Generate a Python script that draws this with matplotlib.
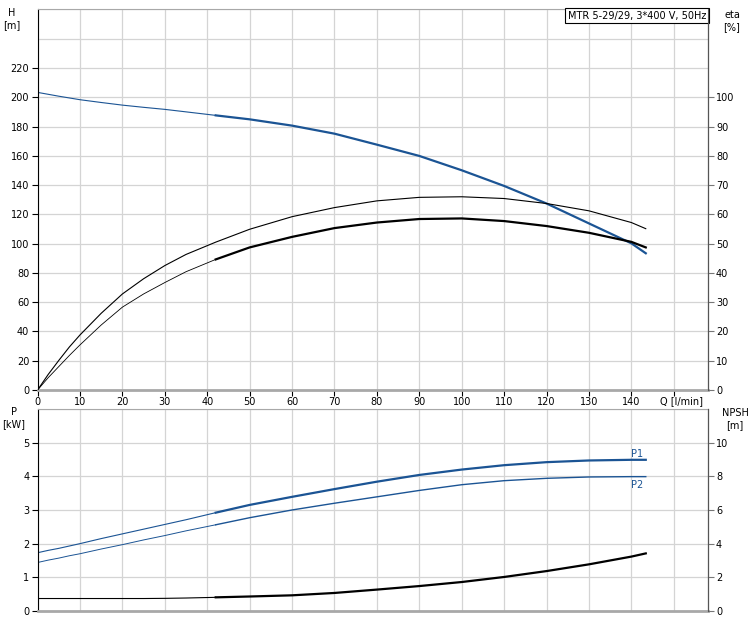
import matplotlib.pyplot as plt

# dane
q = [0, 2.5, 5, 7.5, 10, 15, 20, 25, 30, 35, 42, 50, 60, 70, 80, 90, 100, 110,
     120, 130, 140, 143.4]
h = [203.3, 202, 200.7, 199.5, 198.3, 196.4, 194.6, 193.1, 191.7, 190, 187.6,
     184.9, 180.6, 175.1, 167.6, 159.9, 150.1, 139.4, 127.4, 113.8, 100.2, 93.4]
eta1 = [0, 5.3, 10.1, 14.7, 18.8, 26.2, 32.8, 38, 42.5, 46.3, 50.5, 54.9, 59.2,
        62.3, 64.6, 65.8, 66, 65.4, 63.7, 61.2, 57.2, 55.1]
eta2 = [0, 4.2, 8, 11.8, 15.4, 22.2, 28.3, 32.8, 36.7, 40.4, 44.6, 48.7, 52.3,
        55.3, 57.2, 58.4, 58.6, 57.7, 56, 53.7, 50.6, 48.7]
p1 = [1.73, 1.8, 1.86, 1.93, 2.0, 2.15, 2.29, 2.43, 2.57, 2.71, 2.92, 3.15,
      3.39, 3.62, 3.84, 4.04, 4.2, 4.33, 4.42, 4.47, 4.49, 4.49]
p2 = [1.44, 1.51, 1.57, 1.64, 1.70, 1.84, 1.97, 2.11, 2.24, 2.38, 2.56, 2.77,
      3.0, 3.2, 3.39, 3.58, 3.75, 3.87, 3.94, 3.98, 3.99, 3.99]
npsh = [0.74, 0.74, 0.74, 0.74, 0.74, 0.74, 0.74, 0.74, 0.75, 0.77, 0.81, 0.86,
        0.93, 1.07, 1.27, 1.48, 1.72, 2.02, 2.37, 2.77, 3.23, 3.42]

q_ticks = list(range(0, 160, 10))
q_labels = [str(v) for v in range(0, 150, 10)] + ['']
tytul = 'MTR 5-29/29, 3*400 V, 50Hz'

blue = '#1b5494'
grid_c = '#d4d4d4'
k = q.index(42)

plt.rcParams['font.family'] = 'DejaVu Sans'
plt.rcParams['font.size'] = 7

fig = plt.figure(figsize=(7.56, 6.26), dpi=100)
ax = fig.add_axes([0.0497, 0.377, 0.8864, 0.608])
ax2 = ax.twinx()
bx = fig.add_axes([0.0497, 0.024, 0.8864, 0.3227])
bx2 = bx.twinx()


def styl(a, a2, ymax, yticks, ymax2, yticks2, grid_y):
    a.set_xlim(0, 158)
    a.set_ylim(0, ymax)
    a2.set_ylim(0, ymax2)
    a.set_yticks(yticks)
    a2.set_yticks(yticks2)
    for v in q_ticks:
        a.axvline(v, color=grid_c, lw=0.9, zorder=0)
    for v in grid_y:
        a.axhline(v, color=grid_c, lw=0.9, zorder=0)
    a.spines['left'].set_color('black')
    a.spines['bottom'].set_color('#a8a8a8')
    a.spines['bottom'].set_linewidth(2)
    a.spines['top'].set_color('#a8a8a8')
    a2.spines['right'].set_color('#555555')
    for s in ['left', 'top', 'bottom']:
        a2.spines[s].set_visible(False)
    a.tick_params(axis='y', length=4, width=0.8, color='black', pad=2)
    a2.tick_params(axis='y', length=4, width=0.8, color='#777777', pad=2)


styl(ax, ax2, 260, range(0, 240, 20), 130, range(0, 110, 10), range(20, 280, 20))
ax.set_xticks(q_ticks)
ax.set_xticklabels(q_labels)
ax.tick_params(axis='x', length=4, width=0.8, color='black', pad=1)
ax.annotate('Q [l/min]', xy=(150, 0), xycoords='data', xytext=(5.6, -4.2),
            textcoords='offset points', ha='center', va='top', fontsize=7)

styl(bx, bx2, 6, range(0, 6), 12, range(0, 12, 2), range(1, 7))
bx.set_xticks([])

# H
ax.plot(q[:k + 1], h[:k + 1], color=blue, lw=0.8)
ax.plot(q[k:], h[k:], color=blue, lw=1.6)
# eta
ax2.plot(q, eta1, color='black', lw=0.8)
ax2.plot(q[:k + 1], eta2[:k + 1], color='black', lw=0.6)
ax2.plot(q[k:], eta2[k:], color='black', lw=1.6)

# P1, P2
bx.plot(q[:k + 1], p1[:k + 1], color=blue, lw=0.8)
bx.plot(q[k:], p1[k:], color=blue, lw=1.6)
bx.plot(q[:k + 1], p2[:k + 1], color=blue, lw=0.7)
bx.plot(q[k:], p2[k:], color=blue, lw=1.0)
bx.text(140, 4.65, 'P1', color=blue, fontsize=7, va='center')
bx.text(140, 3.74, 'P2', color=blue, fontsize=7, va='center')
# NPSH
bx2.plot(q[:k + 1], npsh[:k + 1], color='black', lw=0.8)
bx2.plot(q[k:], npsh[k:], color='black', lw=1.6)

ax.text(0.998, 0.997, tytul, transform=ax.transAxes, ha='right', va='top',
        fontsize=7, bbox=dict(boxstyle='square,pad=0.3', fc='white', ec='black', lw=0.8))

fig.text(12 / 756, 1 - 19 / 626, 'H\n[m]', ha='center', va='center', fontsize=7)
fig.text(732 / 756, 1 - 21 / 626, 'eta\n[%]', ha='center', va='center', fontsize=7)
fig.text(14 / 756, 1 - 418 / 626, 'P\n[kW]', ha='center', va='center', fontsize=7)
fig.text(735 / 756, 1 - 419 / 626, 'NPSH\n[m]', ha='center', va='center', fontsize=7)

fig.savefig('out.png', dpi=100)
